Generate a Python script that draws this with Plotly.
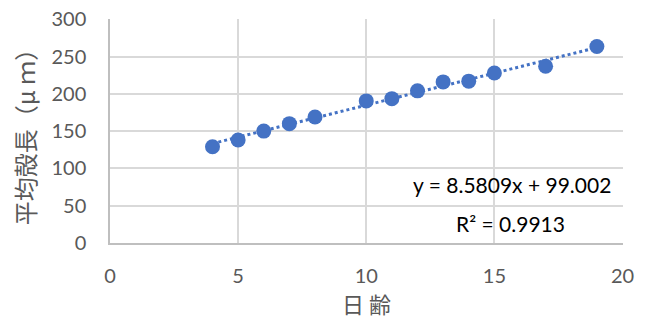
import plotly.graph_objects as go

days = [4, 5, 6, 7, 8, 10, 11, 12, 13, 14, 15, 17, 19]
mean_length = [129, 138, 150, 160, 169, 190.5, 193.5, 204, 216, 217, 228, 237, 263.5]
slope = 8.5809
intercept = 99.002
r2 = 0.9913
x_ticks = [0, 5, 10, 15, 20]
y_ticks = [0, 50, 100, 150, 200, 250, 300]

blue = "#4472C4"
tick_font = dict(family="Lato, Open Sans, sans-serif", size=20, color="#595959")

trend_x = [min(days), max(days)]
trend_y = [slope * v + intercept for v in trend_x]

fig = go.Figure()
fig.add_trace(go.Scatter(x=trend_x, y=trend_y, mode="lines",
                         line=dict(color=blue, width=3, dash="dot"), hoverinfo="skip"))
fig.add_trace(go.Scatter(x=days, y=mean_length, mode="markers",
                         marker=dict(color=blue, size=15)))

fig.add_annotation(x=0.98, y=0.259, xref="paper", yref="paper",
                   text=f"y = {slope}x + {intercept:.3f}", showarrow=False,
                   xanchor="right", yanchor="middle",
                   font=dict(family="Lato, Open Sans, sans-serif", size=21, color="#000000"))
fig.add_annotation(x=0.78, y=0.089, xref="paper", yref="paper",
                   text=f"R² = {r2}", showarrow=False,
                   xanchor="center", yanchor="middle",
                   font=dict(family="Lato, Open Sans, sans-serif", size=21, color="#000000"))

fig.update_layout(
    width=647, height=321,
    margin=dict(l=110, r=24, t=19, b=78),
    paper_bgcolor="white", plot_bgcolor="white",
    showlegend=False,
    xaxis=dict(range=[0, 20.02], tickvals=x_ticks, showgrid=True, gridcolor="#d9d9d9",
               gridwidth=1.5, showline=True, linecolor="#bfbfbf", linewidth=1.5,
               zeroline=False, tickfont=tick_font, ticks="", automargin=False,
               ticklabelstandoff=14, ticklabeloverflow="allow",
               title=dict(text="日 齢", font=dict(family="Noto Sans CJK JP", size=22, color="#595959"),
                          standoff=6)),
    yaxis=dict(range=[0, 300.3], tickvals=y_ticks, showgrid=True, gridcolor="#d9d9d9",
               gridwidth=1.5, showline=True, linecolor="#bfbfbf", linewidth=1.5,
               zeroline=False, tickfont=tick_font, ticks="", automargin=False,
               ticklabelstandoff=18, ticklabeloverflow="allow",
               title=dict(text="平均殻長（μ ｍ）", font=dict(family="Noto Sans CJK JP", size=24, color="#595959"),
                          standoff=9)),
)
fig.write_html("out.html", post_script="document.body.style.margin='0';",
               config={"displayModeBar": False})
